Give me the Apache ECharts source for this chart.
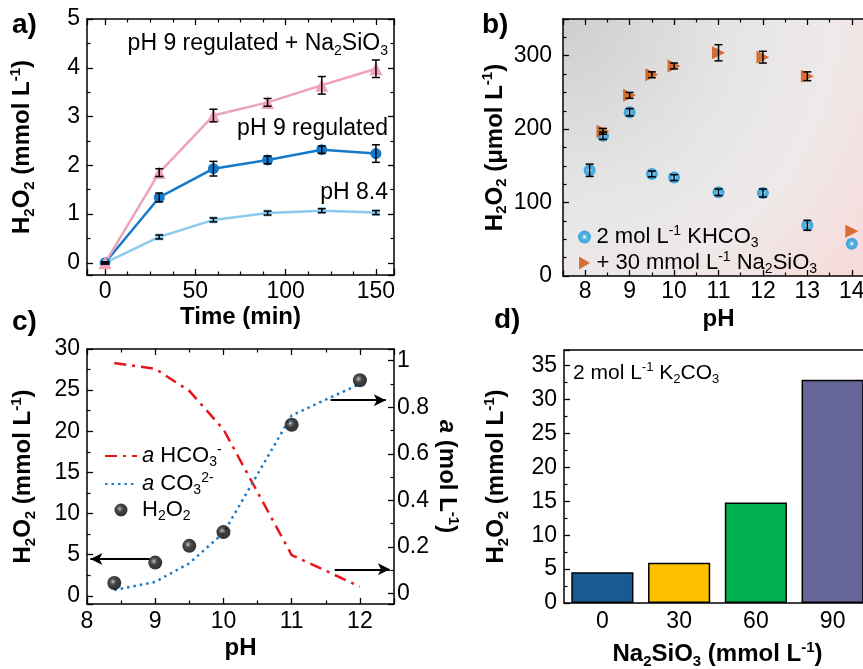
<!DOCTYPE html>
<html>
<head>
<meta charset="utf-8">
<script src="https://cdn.jsdelivr.net/npm/echarts@6/dist/echarts.min.js"></script>
<style>
  html, body { margin: 0; padding: 0; background: #fff; }
  #chart { width: 863px; height: 669px; }
</style>
</head>
<body>
<div id="chart"></div>
<script>
// ---- data: panel a (H2O2 vs time)
const timeMin = [0, 30, 60, 90, 120, 150]
const ph84 = [0, 0.53, 0.88, 1.02, 1.07, 1.03]
const ph84Err = [0.02, 0.04, 0.04, 0.04, 0.04, 0.04]
const ph9 = [0, 1.34, 1.93, 2.11, 2.32, 2.24]
const ph9Err = [0.02, 0.09, 0.15, 0.08, 0.075, 0.18]
const ph9Si = [0, 1.85, 3.02, 3.29, 3.64, 3.98]
const ph9SiErr = [0.02, 0.08, 0.13, 0.08, 0.18, 0.18]

// ---- panel b (H2O2 vs pH, with / without silicate)
const phKHCO3 = [8.1, 8.4, 9, 9.5, 10, 11, 12, 13, 14]
const khco3 = [144, 191, 223, 139, 134, 114, 113, 69, 44]
const khco3Err = [8.4, 5, 5, 4, 4, 4.5, 5.5, 6.8, 0]
const phSi = [8.4, 9, 9.5, 10, 11, 12, 13, 14]
const withSi = [197, 246, 274, 286, 304, 298, 272, 61]
const withSiErr = [4, 4, 4, 4, 11, 8, 6, 0]

// ---- panel c (H2O2 and carbonate activities vs pH)
const phC = [8.4, 9, 9.5, 10, 11, 12]
const h2o2C = [1.55, 4.03, 6.07, 7.74, 20.8, 26.2]
const aHCO3 = [0.99, 0.965, 0.87, 0.705, 0.165, 0.03]
const aCO3 = [0.015, 0.05, 0.13, 0.26, 0.765, 0.9]

// ---- panel d (H2O2 vs silicate concentration)
const siConc = ['0', '30', '60', '90']
const h2o2D = [4.55, 5.95, 14.8, 32.9]
const barColors = ['#175a94', '#ffc000', '#00b050', '#666699']

const FONT = '"Liberation Sans", Arial, sans-serif'

function richSet (fs, bold) {
  const w = bold ? 'bold' : 'normal'
  const L = Math.round(fs * 1.2)
  const s = Math.round(fs * 0.62)
  const base = { fontFamily: FONT, color: '#000', fontWeight: w }
  return {
    n: Object.assign({}, base, { fontSize: fs, lineHeight: L }),
    i: Object.assign({}, base, { fontSize: fs, lineHeight: L, fontStyle: 'italic' }),
    s: Object.assign({}, base, { fontSize: s, lineHeight: s, verticalAlign: 'bottom' }),
    p: Object.assign({}, base, { fontSize: s, lineHeight: s, verticalAlign: 'top' })
  }
}

const zip = (xs, ys) => xs.map((x, i) => [x, ys[i]])
const zip3 = (xs, ys, es) => xs.map((x, i) => [x, ys[i], es[i]])

function isStep (v, step) {
  const r = v / step
  return Math.abs(r - Math.round(r)) < 1e-6
}

// value axis with inward ticks; labels only on multiples of step
function valAxis (grid, pos, min, max, step, minorSplit, showLabel, margin) {
  return {
    type: 'value',
    gridIndex: grid,
    position: pos,
    min: min,
    max: max,
    minInterval: step,
    maxInterval: step,
    splitNumber: Math.max(1, Math.round((max - min) / step)),
    axisLine: { show: true, onZero: false, lineStyle: { color: '#000', width: 1.5 } },
    axisTick: { show: true, inside: true, length: 6, lineStyle: { color: '#000', width: 1.3 } },
    minorTick: { show: true, splitNumber: minorSplit, length: 3.5, lineStyle: { color: '#000', width: 1.2 } },
    splitLine: { show: false },
    axisLabel: {
      show: showLabel,
      fontSize: 23,
      fontFamily: FONT,
      color: '#000',
      margin: margin || 6,
      showMinLabel: true,
      showMaxLabel: true,
      formatter: v => isStep(v, step) ? String(Math.round(v * 1000) / 1000) : ''
    }
  }
}

function axisName (ax, text, gap, rot, bold) {
  ax.name = text
  ax.nameLocation = 'middle'
  ax.nameGap = gap
  if (rot !== undefined) ax.nameRotate = rot
  ax.nameTextStyle = { rich: richSet(24, bold !== false) }
  return ax
}

function errBar (params, api) {
  const x = api.value(0)
  const y = api.value(1)
  const e = api.value(2)
  if (!e) return null
  const top = api.coord([x, y + e])
  const bot = api.coord([x, y - e])
  const w = 4
  const st = { stroke: '#000', lineWidth: 1.5 }
  return {
    type: 'group',
    children: [
      { type: 'line', shape: { x1: top[0], y1: top[1], x2: bot[0], y2: bot[1] }, style: st },
      { type: 'line', shape: { x1: top[0] - w, y1: top[1], x2: top[0] + w, y2: top[1] }, style: st },
      { type: 'line', shape: { x1: bot[0] - w, y1: bot[1], x2: bot[0] + w, y2: bot[1] }, style: st }
    ]
  }
}

function errSeries (xi, yi, data) {
  return { type: 'custom', xAxisIndex: xi, yAxisIndex: yi, data: data, renderItem: errBar, silent: true, z: 10 }
}

const blueSphere = {
  type: 'radial', x: 0.5, y: 0.5, r: 0.5,
  colorStops: [
    { offset: 0, color: '#ffffff' }, { offset: 0.12, color: '#e6f7ff' },
    { offset: 0.36, color: '#2aa9e8' }, { offset: 1, color: '#1990d6' }
  ]
}
const blackSphere = {
  type: 'radial', x: 0.4, y: 0.4, r: 0.6,
  colorStops: [
    { offset: 0, color: '#c8c8c8' }, { offset: 0.18, color: '#5a5a5a' },
    { offset: 0.45, color: '#111' }, { offset: 1, color: '#000' }
  ]
}
const bgB = {
  type: 'radial', x: 0, y: 0, r: 1.5,
  colorStops: [
    { offset: 0, color: '#cecece' }, { offset: 0.45, color: '#e5e5e5' },
    { offset: 0.7, color: '#efe9e9' }, { offset: 1, color: '#f7dada' }
  ]
}

// ---- axes
const xAxes = [
  axisName(valAxis(0, 'bottom', -10, 160, 50, 4, true, 5), '{n|Time (min)}', 28),
  valAxis(0, 'top', -10, 160, 50, 4, false),
  axisName(valAxis(1, 'bottom', 7.5, 14.5, 1, 2, true, 4), '{n|pH}', 29),
  valAxis(1, 'top', 7.5, 14.5, 1, 2, false),
  axisName(valAxis(2, 'bottom', 8, 12.5, 1, 2, true, 6), '{n|pH}', 30),
  valAxis(2, 'top', 8, 12.5, 1, 2, false),
  {
    type: 'category', gridIndex: 3, position: 'bottom', data: siConc,
    name: '{n|Na}{s|2}{n|SiO}{s|3}{n| (mmol L}{p|-1}{n|)}', nameLocation: 'middle', nameGap: 37,
    nameTextStyle: { rich: richSet(24, true) },
    axisLine: { onZero: false, lineStyle: { color: '#000', width: 1.5 } },
    axisTick: { inside: true, length: 6, lineStyle: { color: '#000', width: 1.3 } },
    axisLabel: { fontSize: 23, fontFamily: FONT, color: '#000', margin: 7 }
  },
  {
    type: 'category', gridIndex: 3, position: 'top', data: siConc,
    axisLine: { onZero: false, lineStyle: { color: '#000', width: 1.5 } },
    axisTick: { inside: true, length: 6, lineStyle: { color: '#000', width: 1.3 } },
    axisLabel: { show: false }
  }
]

const rightC = axisName(valAxis(2, 'right', -0.045, 1.05, 0.2, 2, true, 3),
  '{i|a}{n| (mol L}{p|-1}{n|)}', 38, -90)

const yAxes = [
  axisName(valAxis(0, 'left', -0.25, 5, 1, 2, true, 7), '{n|H}{s|2}{n|O}{s|2}{n| (mmol L}{p|-1}{n|)}', 50),
  valAxis(0, 'right', -0.25, 5, 1, 2, false),
  axisName(valAxis(1, 'left', 0, 350, 100, 4, true, 11), '{n|H}{s|2}{n|O}{s|2}{n| (μmol L}{p|-1}{n|)}', 53),
  valAxis(1, 'right', 0, 350, 100, 4, false),
  axisName(valAxis(2, 'left', -1, 30, 5, 2, true, 7), '{n|H}{s|2}{n|O}{s|2}{n| (mmol L}{p|-1}{n|)}', 49),
  rightC,
  axisName(valAxis(3, 'left', 0, 37.3, 5, 2, true, 7), '{n|H}{s|2}{n|O}{s|2}{n| (mmol L}{p|-1}{n|)}', 53),
  valAxis(3, 'right', 0, 37.3, 5, 2, false)
]

// ---- series
const arrowLine = {
  silent: true,
  symbol: ['none', 'arrow'],
  symbolSize: [9, 12],
  label: { show: false },
  lineStyle: { color: '#000', width: 2, type: 'solid' },
  emphasis: { disabled: true }
}

const series = [
  // a
  { type: 'line', name: 'pH 8.4', xAxisIndex: 0, yAxisIndex: 0, data: zip(timeMin, ph84),
    symbol: 'rect', symbolSize: 7, lineStyle: { color: '#8ccbef', width: 2.5 }, itemStyle: { color: '#8ccbef' } },
  { type: 'line', name: 'pH 9 regulated', xAxisIndex: 0, yAxisIndex: 0, data: zip(timeMin, ph9),
    symbol: 'circle', symbolSize: 11, lineStyle: { color: '#1579c9', width: 2.5 }, itemStyle: { color: '#1579c9' } },
  { type: 'line', name: 'pH 9 regulated + Na2SiO3', xAxisIndex: 0, yAxisIndex: 0, data: zip(timeMin, ph9Si),
    symbol: 'triangle', symbolSize: 13, lineStyle: { color: '#eea3b8', width: 2.5 }, itemStyle: { color: '#eea3b8' } },
  errSeries(0, 0, zip3(timeMin, ph84, ph84Err)),
  errSeries(0, 0, zip3(timeMin, ph9, ph9Err)),
  errSeries(0, 0, zip3(timeMin, ph9Si, ph9SiErr)),

  // b
  { type: 'scatter', name: 'KHCO3', xAxisIndex: 2, yAxisIndex: 2, data: zip(phKHCO3, khco3),
    symbol: 'circle', symbolSize: 12, itemStyle: { color: blueSphere } },
  { type: 'scatter', name: 'Si', xAxisIndex: 2, yAxisIndex: 2, data: zip(phSi, withSi),
    symbol: 'triangle', symbolRotate: -90, symbolSize: 13, itemStyle: { color: '#cf4f08' } },
  errSeries(2, 2, zip3(phKHCO3, khco3, khco3Err)),
  errSeries(2, 2, zip3(phSi, withSi, withSiErr)),

  // c
  { type: 'line', name: 'HCO3', xAxisIndex: 4, yAxisIndex: 5, data: zip(phC, aHCO3), symbol: 'none',
    lineStyle: { color: '#e8141c', width: 2.5, type: [12, 6, 3, 6] }, itemStyle: { color: '#e8141c' },
    markLine: Object.assign({}, arrowLine, {
      data: [
        [{ coord: [11.57, 0.83] }, { coord: [12.38, 0.83] }],
        [{ coord: [11.63, 0.104] }, { coord: [12.44, 0.104] }]
      ]
    }) },
  { type: 'line', name: 'CO3', xAxisIndex: 4, yAxisIndex: 5, data: zip(phC, aCO3), symbol: 'none',
    lineStyle: { color: '#1a7cc8', width: 2.5, type: [2.5, 4] }, itemStyle: { color: '#1a7cc8' } },
  { type: 'scatter', name: 'H2O2', xAxisIndex: 4, yAxisIndex: 4, data: zip(phC, h2o2C),
    symbol: 'circle', symbolSize: 14, itemStyle: { color: blackSphere }, z: 5,
    markLine: Object.assign({}, arrowLine, {
      data: [[{ coord: [8.92, 4.48] }, { coord: [8.05, 4.48] }]]
    }) },

  // d
  { type: 'bar', name: 'd', xAxisIndex: 6, yAxisIndex: 6, barWidth: '81%',
    data: h2o2D.map((v, i) => ({ value: v, itemStyle: { color: barColors[i] } })),
    itemStyle: { borderColor: '#000', borderWidth: 1.5 } }
]

const legendTextB = {
  KHCO3: '{n|2 mol L}{p|-1}{n| KHCO}{s|3}',
  Si: '{n|+ 30 mmol L}{p|-1}{n| Na}{s|2}{n|SiO}{s|3}'
}
const legendTextC = {
  HCO3: '{i|a}{n| HCO}{s|3}{p|-}',
  CO3: '{i|a}{n| CO}{s|3}{p|2-}',
  H2O2: '{n|H}{s|2}{n|O}{s|2}'
}
// line-only legend icons: hide the default symbol drawn on the line
const noDot = { color: 'rgba(0,0,0,0)', borderColor: 'rgba(0,0,0,0)', borderWidth: 0 }

function note (text, pos, fs, bold) {
  return Object.assign({ text: text, padding: 0, textStyle: { rich: richSet(fs, bold) } }, pos)
}
function letter (text, left, top) {
  return { text: text, left: left, top: top, padding: 0,
    textStyle: { fontSize: 28, fontWeight: 'bold', fontFamily: FONT, color: '#000', lineHeight: 32 } }
}

const option = {
  animation: false,
  textStyle: { fontFamily: FONT },
  grid: [
    { left: 87, top: 19, width: 307, height: 256, outerBoundsMode: 'none' },
    { left: 563, top: 19, width: 311, height: 257, outerBoundsMode: 'none', show: true, backgroundColor: bgB, borderWidth: 0 },
    { left: 87, top: 349, width: 307, height: 255, outerBoundsMode: 'none' },
    { left: 564, top: 350, width: 307, height: 253, outerBoundsMode: 'none' }
  ],
  xAxis: xAxes,
  yAxis: yAxes,
  title: [
    letter('a)', 12, 9),
    letter('b)', 482, 9),
    letter('c)', 12, 306),
    letter('d)', 494, 304),
    note('{n|pH 9 regulated + Na}{s|2}{n|SiO}{s|3}', { right: 475, top: 30 }, 23, false),
    note('{n|pH 9 regulated}', { right: 475, top: 115 }, 23, false),
    note('{n|pH 8.4}', { right: 475, top: 179 }, 23, false),
    note('{n|2 mol L}{p|-1}{n| K}{s|2}{n|CO}{s|3}', { left: 573, top: 361 }, 21, false)
  ],
  legend: [
    {
      data: ['KHCO3', { name: 'Si', icon: 'path://M0,0 L10,6 L0,12 Z' }],
      left: 573, top: 219, orient: 'vertical',
      itemWidth: 14, itemHeight: 13, itemGap: 0, selectedMode: false,
      formatter: name => legendTextB[name],
      textStyle: { rich: richSet(22, false) }
    },
    {
      data: [{ name: 'HCO3', itemStyle: noDot }, { name: 'CO3', itemStyle: noDot }, 'H2O2'],
      left: 99, top: 438, orient: 'vertical',
      itemWidth: 32, itemHeight: 13, itemGap: 2, selectedMode: false,
      formatter: name => legendTextC[name],
      textStyle: { rich: richSet(22, false) }
    }
  ],
  series: series
}

const chart = echarts.init(document.getElementById('chart'))
chart.setOption(option)
</script>
</body>
</html>
